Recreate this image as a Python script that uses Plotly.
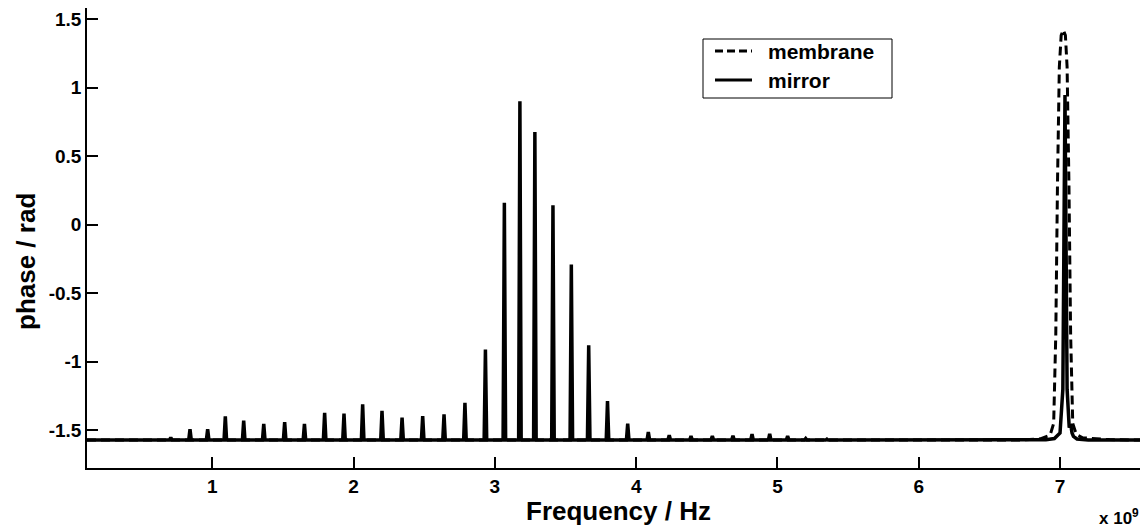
import plotly.graph_objects as go

# ---- data (frequencies in GHz, phase in rad) ----
baseline_phase = -1.571
freq_start_ghz = 0.113
freq_end_ghz = 7.566

# mirror: comb of narrow resonances (peak frequency, peak phase)
comb_freq_ghz = [0.706, 0.842, 0.967, 1.092, 1.222, 1.364, 1.512, 1.652, 1.795,
                 1.932, 2.064, 2.201, 2.343, 2.489, 2.640, 2.788, 2.933, 3.067,
                 3.177, 3.283, 3.411, 3.541, 3.664, 3.797, 3.940, 4.086, 4.234,
                 4.388, 4.539, 4.685, 4.820, 4.945, 5.072, 5.200, 5.350]
comb_phase = [-1.552, -1.492, -1.492, -1.398, -1.430, -1.453, -1.440, -1.453, -1.372,
              -1.378, -1.311, -1.358, -1.407, -1.397, -1.383, -1.300, -0.910, 0.160,
              0.900, 0.676, 0.141, -0.290, -0.880, -1.286, -1.452, -1.512, -1.535,
              -1.542, -1.542, -1.540, -1.528, -1.526, -1.542, -1.560, -1.564]
comb_halfwidth_ghz = 0.009

# mirror: resonance near 7 GHz (explicit samples)
mirror_res_freq_ghz = [6.90, 6.96, 7.00, 7.020, 7.035, 7.050, 7.065, 7.075, 7.085,
                       7.095, 7.12, 7.20]
mirror_res_phase = [-1.569, -1.560, -1.520, -1.200, 0.945, -1.200, -1.480, -1.455,
                    -1.520, -1.545, -1.563, -1.570]

# membrane: single resonance near 7 GHz (explicit samples)
membrane_freq_ghz = [0.113, 6.75, 6.86, 6.93, 6.955, 6.970, 6.982, 6.995, 7.008,
                     7.023, 7.038, 7.050, 7.063, 7.075, 7.090, 7.115, 7.16, 7.25,
                     7.35, 7.566]
membrane_phase = [-1.571, -1.570, -1.562, -1.535, -1.450, -0.800, 0.300, 1.150, 1.380,
                  1.420, 1.380, 1.150, 0.300, -0.800, -1.450, -1.530, -1.555, -1.562,
                  -1.568, -1.571]

x_tick_vals = [1, 2, 3, 4, 5, 6, 7]
x_tick_text = ["1", "2", "3", "4", "5", "6", "7"]
y_tick_vals = [-1.5, -1, -0.5, 0, 0.5, 1, 1.5]
y_tick_text = ["-1.5", "-1", "-0.5", "0", "0.5", "1", "1.5"]
legend_names = ["membrane", "mirror"]

# ---- build mirror polyline from the data lists ----
mirror_x = [freq_start_ghz]
mirror_y = [baseline_phase]
for f, p in zip(comb_freq_ghz, comb_phase):
    mirror_x += [f - comb_halfwidth_ghz, f, f + comb_halfwidth_ghz]
    mirror_y += [baseline_phase, p, baseline_phase]
mirror_x += mirror_res_freq_ghz + [freq_end_ghz]
mirror_y += mirror_res_phase + [baseline_phase]

GHZ = 1e9
W, H = 1145, 532
ML, MR, MT, MB = 87, 5, 8, 64
PW, PH = W - ML - MR, H - MT - MB
font_family = "Liberation Sans, Arial, Helvetica, sans-serif"


def px_x(px):
    return (px - ML) / PW


def px_y(py):
    return 1 - (py - MT) / PH


MEMBRANE_DASH = "9px,5px"

fig = go.Figure()
fig.add_trace(go.Scatter(
    x=[f * GHZ for f in membrane_freq_ghz], y=membrane_phase,
    mode="lines", name=legend_names[0], showlegend=False,
    line=dict(color="black", width=3, dash=MEMBRANE_DASH),
))
fig.add_trace(go.Scatter(
    x=[f * GHZ for f in mirror_x], y=mirror_y,
    mode="lines", name=legend_names[1], showlegend=False,
    line=dict(color="black", width=3.5),
))

# ---- legend box drawn by hand (to match the reference size) ----
shapes = [
    dict(type="rect", xref="paper", yref="paper",
         x0=px_x(703), x1=px_x(892), y0=px_y(98), y1=px_y(39),
         line=dict(color="black", width=1), fillcolor="white", layer="above"),
    dict(type="line", xref="paper", yref="paper",
         x0=px_x(715), x1=px_x(752), y0=px_y(51), y1=px_y(51),
         line=dict(color="black", width=3, dash="8px,4px"), layer="above"),
    dict(type="line", xref="paper", yref="paper",
         x0=px_x(715), x1=px_x(752), y0=px_y(80), y1=px_y(80),
         line=dict(color="black", width=3), layer="above"),
]
legend_annotations = [
    dict(text=legend_names[0], xref="paper", yref="paper",
         x=px_x(766), y=px_y(51), xanchor="left", yanchor="middle", showarrow=False,
         font=dict(family=font_family, size=21, color="black", weight="bold")),
    dict(text=legend_names[1], xref="paper", yref="paper",
         x=px_x(766), y=px_y(80), xanchor="left", yanchor="middle", showarrow=False,
         font=dict(family=font_family, size=21, color="black", weight="bold")),
]

fig.update_layout(
    width=W, height=H,
    margin=dict(l=ML, r=MR, t=MT, b=MB, autoexpand=False),
    paper_bgcolor="white", plot_bgcolor="white",
    font=dict(family=font_family, color="black", size=18),
    showlegend=False,
    xaxis=dict(
        range=[freq_start_ghz * GHZ, freq_end_ghz * GHZ],
        tickvals=[v * GHZ for v in x_tick_vals], ticktext=x_tick_text,
        ticks="inside", ticklen=11, tickwidth=1.5, tickcolor="black",
        showline=True, linecolor="black", linewidth=1.5,
        showgrid=False, zeroline=False, automargin=False,
        tickfont=dict(family=font_family, size=19, weight="bold"),
    ),
    yaxis=dict(
        range=[-1.775, 1.58],
        tickvals=y_tick_vals, ticktext=y_tick_text,
        ticks="inside", ticklen=11, tickwidth=1.5, tickcolor="black",
        showline=True, linecolor="black", linewidth=1.5,
        showgrid=False, zeroline=False, automargin=False,
        tickfont=dict(family=font_family, size=19, weight="bold"),
    ),
    shapes=shapes,
    annotations=legend_annotations + [
        dict(text="Frequency / Hz", xref="paper", yref="paper",
             x=px_x(618), y=px_y(511), xanchor="center", yanchor="middle", showarrow=False,
             font=dict(family=font_family, size=26, color="black", weight="bold")),
        dict(text="phase / rad", xref="paper", yref="paper", textangle=-90,
             x=px_x(26), y=px_y(262), xanchor="center", yanchor="middle", showarrow=False,
             font=dict(family=font_family, size=26, color="black", weight="bold")),
        dict(text="x 10<sup>9</sup>", xref="paper", yref="paper",
             x=px_x(1141), y=px_y(517), xanchor="right", yanchor="middle", showarrow=False,
             font=dict(family=font_family, size=17, color="black", weight="bold")),
    ],
)

fig.write_html(
    "out.html",
    config={"displayModeBar": False},
    post_script="document.body.style.margin='0';document.body.style.overflow='hidden';",
)
